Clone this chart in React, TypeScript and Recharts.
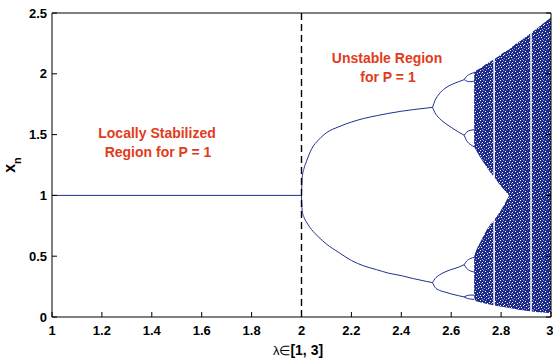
import { ComposedChart, Line, Area, XAxis, YAxis, ReferenceLine } from "recharts";

// axis ticks
const xTicks = [1, 1.2, 1.4, 1.6, 1.8, 2, 2.2, 2.4, 2.6, 2.8, 3];
const yTicks = [0, 0.5, 1, 1.5, 2, 2.5];

// fixed point, stable for lambda < 2
const stableLambda = [1, 2];
const stableX = [1, 1];

// period-2 branches
const p2Lambda = [2, 2.003, 2.01, 2.02, 2.04, 2.07, 2.1, 2.15, 2.2, 2.25, 2.3, 2.35, 2.4, 2.45, 2.5, 2.525];
const p2Upper = [1, 1.15, 1.22, 1.28, 1.38, 1.46, 1.515, 1.565, 1.603, 1.633, 1.655, 1.675, 1.692, 1.706, 1.718, 1.724];
const p2Lower = [1, 0.87, 0.82, 0.78, 0.72, 0.655, 0.6, 0.53, 0.465, 0.42, 0.39, 0.36, 0.34, 0.315, 0.293, 0.283];

// period-4 branches
const p4Lambda = [2.525, 2.535, 2.552, 2.575, 2.6, 2.63, 2.652];
const p4Branches = [
  [1.724, 1.78, 1.835, 1.88, 1.91, 1.935, 1.952],
  [1.724, 1.68, 1.635, 1.595, 1.56, 1.52, 1.495],
  [0.283, 0.315, 0.345, 0.37, 0.39, 0.41, 0.43],
  [0.283, 0.245, 0.22, 0.205, 0.19, 0.175, 0.165],
];

// period-8 bubbles
const p8Lambda = [2.652, 2.662, 2.676, 2.692];
const p8Branches = [
  [1.952, 1.98, 1.998, 2.01],
  [1.952, 1.94, 1.935, 1.94],
  [1.495, 1.52, 1.535, 1.54],
  [1.495, 1.45, 1.42, 1.4],
  [0.43, 0.46, 0.48, 0.49],
  [0.43, 0.4, 0.38, 0.37],
  [0.165, 0.175, 0.18, 0.18],
  [0.165, 0.155, 0.148, 0.145],
];

// chaotic region, two bands (null = periodic window)
const twoBandLambda = [2.692, 2.7, 2.72, 2.74, 2.76, 2.769, 2.772, 2.775, 2.79, 2.81, 2.832];
const upperBandTop = [2.015, 2.027, 2.05, 2.08, 2.105, 2.116, null, 2.123, 2.145, 2.175, 2.2];
const upperBandBottom = [1.4, 1.37, 1.3, 1.24, 1.18, 1.16, null, 1.145, 1.1, 1.05, 1.0];
const lowerBandTop = [0.5, 0.55, 0.63, 0.71, 0.77, 0.79, null, 0.805, 0.85, 0.915, 1.0];
const lowerBandBottom = [0.15, 0.13, 0.12, 0.108, 0.1, 0.097, null, 0.095, 0.089, 0.082, 0.075];

// chaotic region after merging
const oneBandLambda = [2.832, 2.85, 2.87, 2.9, 2.917, 2.92, 2.923, 2.95, 2.97, 3];
const oneBandTop = [2.2, 2.232, 2.261, 2.305, 2.332, null, 2.34, 2.383, 2.415, 2.463];
const oneBandBottom = [0.075, 0.067, 0.06, 0.052, 0.048, null, 0.046, 0.04, 0.036, 0.031];

const BLUE = "#1f2f8f";
const RED = "#e23b1c";

const zip = (xs: number[], ys: number[]) => xs.map((x, i) => ({ x, y: ys[i] }));
const zipRange = (xs: number[], lo: (number | null)[], hi: (number | null)[]) =>
  xs.map((x, i) => ({ x, r: lo[i] == null || hi[i] == null ? null : [lo[i], hi[i]] }));

const branches = [
  zip(stableLambda, stableX),
  zip(p2Lambda, p2Upper),
  zip(p2Lambda, p2Lower),
  ...p4Branches.map((b) => zip(p4Lambda, b)),
  ...p8Branches.map((b) => zip(p8Lambda, b)),
];

const bands = [
  zipRange(twoBandLambda, upperBandBottom, upperBandTop),
  zipRange(twoBandLambda, lowerBandBottom, lowerBandTop),
  zipRange(oneBandLambda, oneBandBottom, oneBandTop),
];

// speckle texture for the chaotic bands
const speckWhite = [
  [0, 0], [5, 1], [2, 2], [7, 3], [3, 5], [6, 6], [1, 7], [4, 4], [8, 8], [0, 5], [9, 2],
];
const speckLight = [
  [3, 0], [8, 5], [1, 3], [6, 9], [4, 8], [9, 7], [2, 9],
];

const tickStyle = { fill: "#000", fontSize: 13, fontWeight: "bold" as const };

export default function App() {
  return (
    <div
      style={{
        position: "fixed",
        left: 0,
        top: 0,
        width: 553,
        height: 360,
        background: "#fff",
        fontFamily: "'Liberation Sans', Arial, sans-serif",
      }}
    >
      <ComposedChart width={553} height={360} margin={{ top: 0, right: 0, bottom: 0, left: 0 }}>
        <defs>
          <pattern id="chaos" width={10} height={10} patternUnits="userSpaceOnUse">
            <rect width={10} height={10} fill="#1c2b8a" />
            {speckWhite.map(([x, y], i) => (
              <rect key={"w" + i} x={x} y={y} width={1} height={1} fill="#fff" />
            ))}
            {speckLight.map(([x, y], i) => (
              <rect key={"l" + i} x={x} y={y} width={1} height={1} fill="#8f98cc" />
            ))}
          </pattern>
        </defs>
        <XAxis
          dataKey="x"
          type="number"
          domain={[1, 3]}
          ticks={xTicks}
          allowDataOverflow
          height={43}
          stroke="#000"
          tickSize={-5}
          tickMargin={14}
          tick={tickStyle}
        />
        <XAxis
          xAxisId="top"
          orientation="top"
          type="number"
          domain={[1, 3]}
          ticks={xTicks}
          allowDataOverflow
          height={13}
          stroke="#000"
          tickSize={-5}
          tickFormatter={() => ""}
        />
        <YAxis
          type="number"
          domain={[0, 2.5]}
          ticks={yTicks}
          allowDataOverflow
          width={52}
          stroke="#000"
          tickSize={-5}
          tickMargin={10}
          tick={tickStyle}
        />
        <YAxis
          yAxisId="right"
          orientation="right"
          type="number"
          domain={[0, 2.5]}
          ticks={yTicks}
          allowDataOverflow
          width={2}
          stroke="#000"
          tickSize={-5}
          tickFormatter={() => ""}
        />
        {bands.map((d, i) => (
          <Area
            key={"band" + i}
            data={d}
            dataKey="r"
            type="linear"
            fill="url(#chaos)"
            fillOpacity={1}
            stroke="none"
            dot={false}
            activeDot={false}
            isAnimationActive={false}
          />
        ))}
        {branches.map((d, i) => (
          <Line
            key={"br" + i}
            data={d}
            dataKey="y"
            type="monotone"
            stroke={BLUE}
            strokeWidth={1}
            dot={false}
            activeDot={false}
            isAnimationActive={false}
          />
        ))}
        <ReferenceLine x={2} stroke="#000" strokeWidth={1.4} strokeDasharray="7 4" />
        <g fontWeight="bold" fontSize={14} fill={RED} textAnchor="middle">
          <text x={157} y={138}>Locally Stabilized</text>
          <text x={158} y={157}>Region for P = 1</text>
          <text x={387} y={63}>Unstable Region</text>
          <text x={388} y={82}>for P = 1</text>
        </g>
        <text x={298} y={355} textAnchor="middle" fontSize={14} fill="#000">
          <tspan fontSize={13}>λ∈</tspan>
          <tspan fontWeight="bold">[1, 3]</tspan>
        </text>
        <text
          x={15}
          y={165}
          textAnchor="middle"
          fontSize={16}
          fontWeight="bold"
          fill="#000"
          transform="rotate(-90 15 165)"
        >
          x<tspan dy={5.5} fontSize={11}>n</tspan>
        </text>
      </ComposedChart>
    </div>
  );
}
